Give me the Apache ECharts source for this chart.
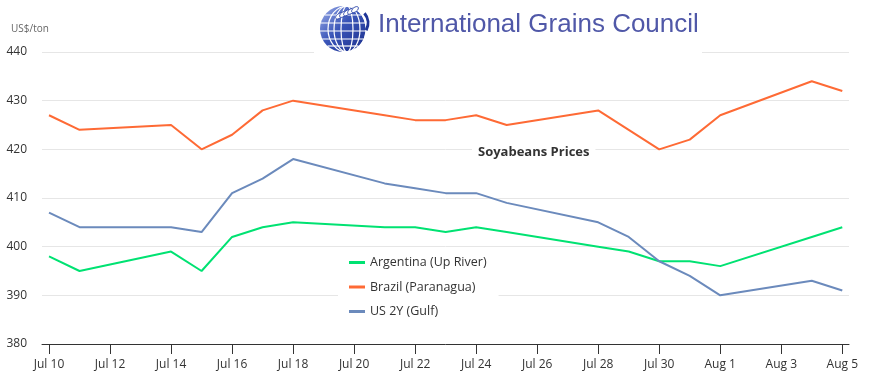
<!DOCTYPE html>
<html>
<head>
<meta charset="utf-8">
<script src="https://cdn.jsdelivr.net/npm/echarts@6/dist/echarts.min.js"></script>
<style>html,body{margin:0;padding:0;background:#fff;}#chart{width:878px;height:389px;}</style>
</head>
<body>
<div id="chart"></div>
<script>
// ---- data ----
var dates = ["2014-07-10","2014-07-11","2014-07-14","2014-07-15","2014-07-16","2014-07-17","2014-07-18",
             "2014-07-21","2014-07-22","2014-07-23","2014-07-24","2014-07-25","2014-07-28","2014-07-29",
             "2014-07-30","2014-07-31","2014-08-01","2014-08-04","2014-08-05"];
var argentina = [398,395,399,395,402,404,405,404,404,403,404,403,400,399,397,397,396,402,404];
var brazil    = [427,424,425,420,423,428,430,427,426,426,427,425,428,424,420,422,427,434,432];
var us        = [407,404,404,403,411,414,418,413,412,411,411,409,405,402,397,394,390,393,391];
var seriesNames = ["Argentina (Up River)","Brazil (Paranagua)","US 2Y (Gulf)"];
var tickDates = ["2014-07-10","2014-07-12","2014-07-14","2014-07-16","2014-07-18","2014-07-20","2014-07-22",
                 "2014-07-24","2014-07-26","2014-07-28","2014-07-30","2014-08-01","2014-08-03","2014-08-05"];
var yTicks = [380,390,400,410,420,430,440];
var titleText = "Soyabeans Prices";
var unitText = "US$/ton";
var logoText = "International Grains Council";

// ---- helpers ----
var DAY = 86400000;
function ts(s){ var p=s.split('-'); return Date.UTC(+p[0], +p[1]-1, +p[2]); }
var t0 = ts(dates[0]);
function dayIdx(s){ return Math.round((ts(s)-t0)/DAY); }
var MONTHS = ["Jan","Feb","Mar","Apr","May","Jun","Jul","Aug","Sep","Oct","Nov","Dec"];
function fmt(v){ var d=new Date(t0 + Math.round(v)*DAY); return MONTHS[d.getUTCMonth()]+" "+d.getUTCDate(); }
function pairs(vals){ return dates.map(function(d,i){ return [dayIdx(d), vals[i]]; }); }
var tickVals = tickDates.map(dayIdx);
var lastIdx = dayIdx(dates[dates.length-1]);
var font = "'Open Sans', 'Noto Sans', sans-serif";

var chart = echarts.init(document.getElementById('chart'), null, {renderer:'canvas'});

// globe graphic pieces (logo decoration)
var gcx = 343, gcy = 29, gr = 23;
var globe = [];
globe.push({type:'circle', z:60, shape:{cx:gcx, cy:gcy, r:gr}, style:{fill:new echarts.graphic.LinearGradient(0,0,1,1,[{offset:0,color:'#9fb0ea'},{offset:0.45,color:'#3a55b8'},{offset:1,color:'#1b2f8c'}])}});
[6,13,19].forEach(function(rx){
  globe.push({type:'ellipse', z:61, shape:{cx:gcx+4, cy:gcy, rx:rx, ry:gr}, style:{fill:null, stroke:'#ffffff', lineWidth:1.2}});
});
[-14,-6,2,10,17].forEach(function(dy){
  var half = Math.sqrt(Math.max(0, gr*gr-dy*dy));
  globe.push({type:'line', z:61, shape:{x1:gcx-half, y1:gcy+dy, x2:gcx+half, y2:gcy+dy}, style:{stroke:'#ffffff', lineWidth:1.2}});
});
for (var k=0;k<5;k++){
  var ex = gcx-4+k*4, ey = gcy-13-k*1.6;
  globe.push({type:'ellipse', z:62, shape:{cx:ex, cy:ey, rx:2.2, ry:4}, rotation:-0.9, originX:ex, originY:ey, style:{fill:'#ffffff', stroke:'#2c45a8', lineWidth:0.8}});
}
globe.push({type:'arc', z:62, shape:{cx:gcx+10, cy:gcy-6, r:15, startAngle:-0.7, endAngle:0.5}, style:{stroke:'#1f3597', lineWidth:3, fill:null}});

var graphics = [
  {type:'rect', z: 50, shape:{x:314, y:0, width:388, height:56}, style:{fill:'#ffffff'}},
  {type:'text', z: 52, style:{text: logoText, x: 378, y: 25, verticalAlign: 'middle', font: "26px 'Liberation Sans', Arial, sans-serif", fill: '#5058a8'}},
  {type:'text', z: 52, style:{text: unitText, x: 11, y: 29, verticalAlign: 'middle', font: "10px 'Open Sans', sans-serif", fill: '#666666'}}
].concat(globe);

var option = {
  animation: false,
  backgroundColor: '#ffffff',
  color: ['#00e272','#fe6a35','#6b8abc'],
  title: {
    text: titleText,
    left: 472, top: 144,
    padding: [2,6,2,6],
    backgroundColor: '#ffffff',
    textStyle: {fontFamily: font, fontSize: 13, fontWeight: 'bold', color: '#333333'}
  },
  legend: {
    orient: 'vertical',
    left: 338, top: 250,
    padding: [6,12,6,11],
    backgroundColor: '#ffffff',
    itemWidth: 16, itemHeight: 3, itemGap: 11.5,
    icon: 'rect',
    data: seriesNames,
    textStyle: {fontFamily: font, fontSize: 12.5, color: '#333333'}
  },
  grid: {left: 42, right: 29, top: 52, bottom: 45, containLabel: false},
  xAxis: {
    type: 'value',
    min: -0.23,
    max: lastIdx + 0.22,
    axisLine: {show: true, onZero: false, lineStyle: {color: '#333333', width: 1}},
    axisTick: {show: true, length: 10, customValues: tickVals, lineStyle: {color: '#333333'}},
    axisLabel: {customValues: tickVals, formatter: function(v){ return fmt(v); }, margin: 15,
                fontFamily: font, fontSize: 12, color: '#333333', hideOverlap: false},
    splitLine: {show: false}
  },
  yAxis: {
    type: 'value',
    min: yTicks[0], max: yTicks[yTicks.length-1], interval: 10,
    axisLine: {show: false}, axisTick: {show: false},
    axisLabel: {margin: 15, fontFamily: font, fontSize: 12, color: '#333333'},
    splitLine: {lineStyle: {color: '#e6e6e6', width: 1}}
  },
  series: [
    {name: seriesNames[0], type: 'line', data: pairs(argentina), showSymbol: false, symbol: 'none', lineStyle: {width: 2}},
    {name: seriesNames[1], type: 'line', data: pairs(brazil), showSymbol: false, symbol: 'none', lineStyle: {width: 2}},
    {name: seriesNames[2], type: 'line', data: pairs(us), showSymbol: false, symbol: 'none', lineStyle: {width: 2}}
  ],
  graphic: graphics
};
chart.setOption(option);
</script>
</body>
</html>
